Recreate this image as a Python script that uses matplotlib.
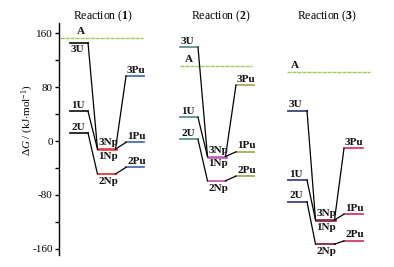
import matplotlib
matplotlib.use("Agg")
import matplotlib.pyplot as plt
from matplotlib.ticker import MultipleLocator

plt.rcParams['font.family'] = ['Liberation Serif', 'DejaVu Serif']
plt.rcParams['mathtext.fontset'] = 'custom'
plt.rcParams['mathtext.rm'] = 'Liberation Serif'
plt.rcParams['mathtext.it'] = 'Liberation Serif:italic'
plt.rcParams['mathtext.bf'] = 'Liberation Serif:bold'
plt.rcParams['axes.unicode_minus'] = False

# ---- data (kJ/mol) ----
reactions = ["1", "2", "3"]
A_level = [153, 111, 102]
U_3 = [146, 139, 45]
U_1 = [44, 35, -58]
U_2 = [12, 2.5, -90]
Np_3 = [-12, -23, -117]
Np_1 = [-12, -23, -117]
Np_2 = [-49, -59, -153]
Pu_3 = [96, 83, -11]
Pu_1 = [-2, -16, -108.5]
Pu_2 = [-39, -52, -148]

# ---- styles / layout ----
U_col = ["#1e1e28", "#5e9090", "#3c4480"]
Np_col = ["#e03a3a", "#c058b8", "#8c2034"]
Pu_col = ["#4a70b0", "#a8a860", "#d8386c"]
A_col = "#9acd5a"
base_x = [70, 180, 288]
col_dx = [0, 27.5, 56]
wid = [18, 18, 19]
A_span = [(60, 143), (180, 252), (287, 370)]
A_lab_dx = [21, 9, 8]
title_x = [103, 221, 327]

fig = plt.figure(figsize=(3.94, 2.67), dpi=100)
ax = fig.add_axes([59/394, (267-255)/267, (394-59)/394, (255-23)/267])
ax.set_xlim(59, 394)
ax.set_ylim(-169, 175)

for spine in ["top", "right", "bottom"]:
    ax.spines[spine].set_visible(False)
ax.spines["left"].set_linewidth(1.0)
ax.set_xticks([])
ax.yaxis.set_major_locator(MultipleLocator(80))
ax.yaxis.set_minor_locator(MultipleLocator(40))
ax.tick_params(axis='y', which='major', length=3, width=1, labelsize=8, pad=1.5)
ax.tick_params(axis='y', which='minor', length=3, width=1)

lab_kw = dict(fontsize=8, fontweight='bold', color='#111111')
lw_lvl = 1.3
lw_con = 0.9

for i, r in enumerate(reactions):
    bx = base_x[i]
    xu0, xu1 = bx + col_dx[0], bx + col_dx[0] + wid[i]
    xn0, xn1 = bx + col_dx[1], bx + col_dx[1] + wid[i]
    xp0, xp1 = bx + col_dx[2], bx + col_dx[2] + wid[i]

    # A level
    ax.plot(A_span[i], [A_level[i]] * 2, color=A_col, lw=1.0, ls=(0, (3, 0.6)))
    ax.text(A_span[i][0] + A_lab_dx[i], A_level[i] + 3, "A",
            ha='center', va='bottom', **lab_kw)

    # U levels
    for val, name, below in [(U_3[i], "3U", i == 0), (U_1[i], "1U", False), (U_2[i], "2U", False)]:
        ax.plot([xu0, xu1], [val, val], color=U_col[i], lw=lw_lvl)
        if below:
            ax.text(xu0 + 1, val - 4, name, ha='left', va='top', **lab_kw)
        else:
            ax.text(xu0 + 1, val + 2, name, ha='left', va='bottom', **lab_kw)

    # Np levels
    for val, name in [(Np_3[i], "3Np"), (Np_2[i], "2Np")]:
        ax.plot([xn0, xn1], [val, val], color=Np_col[i], lw=lw_lvl + 0.6 if name == "3Np" else lw_lvl)
    ax.text(xn0 + 1, Np_3[i] + 2.5, "3Np", ha='left', va='bottom', **lab_kw)
    ax.text(xn0 + 1, Np_1[i] - 4, "1Np", ha='left', va='top', **lab_kw)
    ax.text(xn0 + 1, Np_2[i] - 4, "2Np", ha='left', va='top', **lab_kw)

    # Pu levels
    for val, name in [(Pu_3[i], "3Pu"), (Pu_1[i], "1Pu"), (Pu_2[i], "2Pu")]:
        ax.plot([xp0, xp1], [val, val], color=Pu_col[i], lw=lw_lvl)
        ax.text(xp0 + 1, val + 2, name, ha='left', va='bottom', **lab_kw)

    # connectors
    for u, n, p in [(U_3[i], Np_3[i], Pu_3[i]), (U_1[i], Np_1[i], Pu_1[i]), (U_2[i], Np_2[i], Pu_2[i])]:
        ax.plot([xu1, xn0], [u, n], color='black', lw=lw_con)
        ax.plot([xn1, xp0], [n, p], color='black', lw=lw_con)

    # title
    ax.text(title_x[i], 173, r"Reaction ($\mathbf{" + r + r"}$)",
            ha='center', va='bottom', fontsize=8.5, clip_on=False)

fig.text(28/394, 1 - 120/267, r"$\Delta$$\it{G}$ / (kJ$\cdot$mol$^{-1}$)",
         rotation=90, ha='center', va='center', fontsize=8)

fig.savefig("out.png", dpi=100, facecolor='white')
